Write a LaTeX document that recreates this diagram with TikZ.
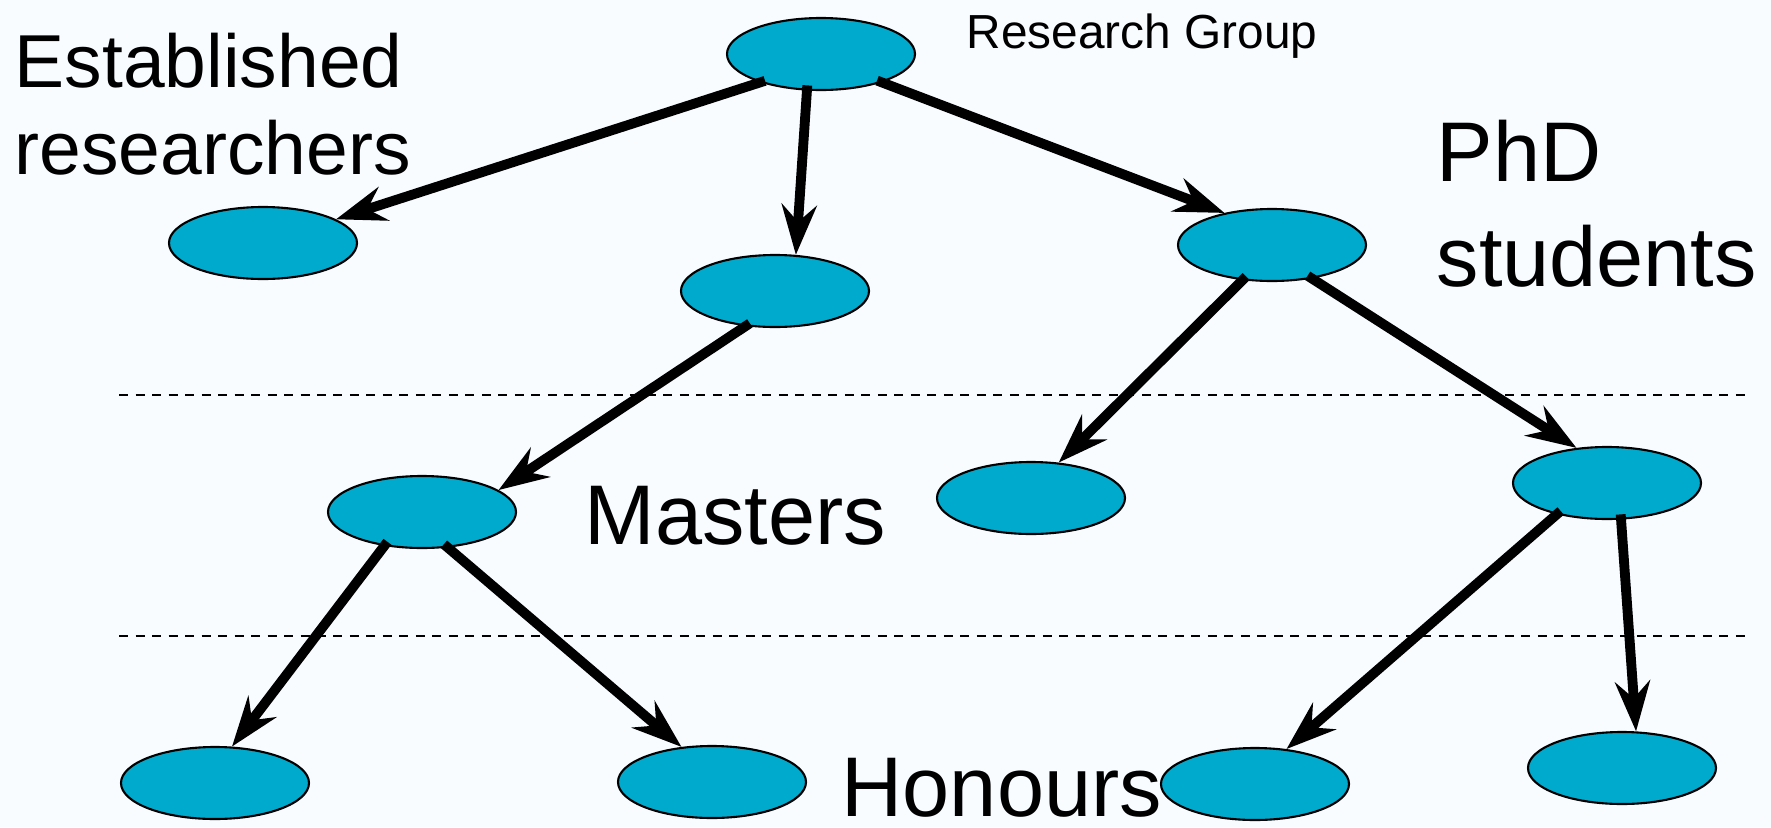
\documentclass[tikz,border=0pt]{standalone}
\usepackage{fontspec}
\setmainfont{Liberation Sans}
\usetikzlibrary{shapes.geometric,arrows.meta}
\definecolor{paper}{HTML}{F8FCFF}
\definecolor{blob}{HTML}{00AACC}

\begin{document}
\begin{tikzpicture}[
    member/.style={ellipse, draw, line width=0.6pt, fill=blob,
      minimum width=1.88cm, minimum height=0.72cm, inner sep=0pt},
    link/.style={-{Stealth[length=5mm, width=3.5mm, inset=1.7mm]},
      line width=2.8pt, shorten <=-1.5pt},
    level/.style={dash pattern=on 0.9mm off 0.75mm, line width=0.8pt},
    big/.style={inner sep=0pt, font=\fontsize{24.1}{30}\selectfont},
  ]
  \fill[paper] (0,0) rectangle (17.71,8.27);
  \useasboundingbox (0,0) rectangle (17.71,8.27);

  \draw[level] (1.19,4.32) -- (17.51,4.32);
  \draw[level] (1.19,1.91) -- (17.51,1.91);

  \node[member] (group) at (8.21,7.73) {};
  \node[member] (estab) at (2.63,5.84) {};
  \node[member] (post) at (7.75,5.36) {};
  \node[member] (phd) at (12.72,5.82) {};
  \node[member] (mast) at (4.22,3.15) {};
  \node[member] (phdA) at (10.31,3.29) {};
  \node[member] (phdB) at (16.07,3.44) {};
  \node[member] (hon1) at (2.15,0.44) {};
  \node[member] (hon2) at (7.12,0.45) {};
  \node[member] (hon3) at (12.55,0.43) {};
  \node[member] (hon4) at (16.22,0.59) {};

  \node[inner sep=0pt, anchor=base west, font=\fontsize{13.6}{16}\selectfont]
    (rgLabel) at (9.66,7.79) {Research Group};
  \node[inner sep=0pt, anchor=north west, align=left,
    font=\fontsize{21.35}{25}\selectfont]
    (estabLabel) at (0.14,7.95) {Established\\researchers};
  \node[big, anchor=north west, align=left] (phdLabel) at (14.36,7.08) {PhD\\students};
  \node[big, anchor=base west] (mastLabel) at (5.84,2.83) {Masters};
  \node[big, anchor=base west] (honLabel) at (8.41,0.11) {Honours};

  \draw[link] (group.205) -- (estab.18);
  \draw[link] (group.249) -- (post.60);
  \draw[link] (group.335) -- (phd.146);
  \draw[link] (post.230) -- (mast.16);
  \draw[link] (phd.230) -- (phdA.52);
  \draw[link] (phd.320) -- (phdB.131);
  \draw[link] (mast.222) -- (hon1.65);
  \draw[link] (mast.306) -- (hon2.131);
  \draw[link] (phdB.212) -- (hon3.48);
  \draw[link] (phdB.291) -- (hon4.69);
\end{tikzpicture}
\end{document}
